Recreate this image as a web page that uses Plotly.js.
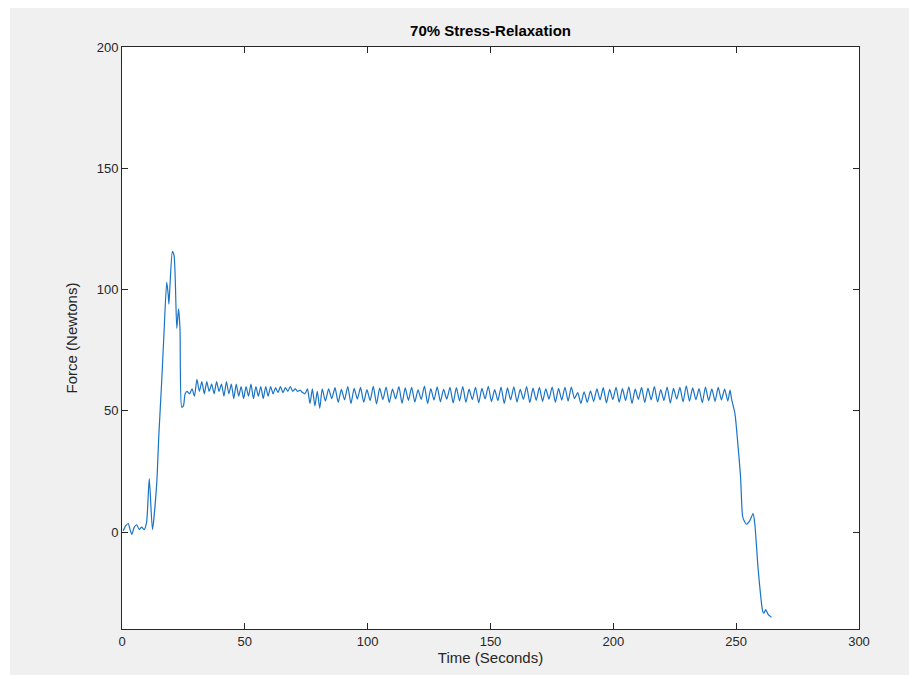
<!DOCTYPE html>
<html>
<head>
<meta charset="utf-8">
<script src="https://cdn.plot.ly/plotly-3.0.1.min.js"></script>
<style>
html,body{margin:0;padding:0;background:#ffffff;width:909px;height:675px;overflow:hidden;}
#chart{position:absolute;left:10px;top:8px;width:899px;height:667px;}
</style>
</head>
<body>
<div id="chart"></div>
<script>
// Time (s) and force (N)
const timeRise = [0.5, 1.5, 2.5, 3.3, 4.0, 5.0, 6.0, 7.0, 8.0, 9.0, 10.0, 11.1, 12.4, 14.1, 15.0, 16.1, 17.0, 18.2, 18.8, 19.1, 19.6, 20.5, 21.2, 22.3, 23.0, 23.6, 24.3, 25.0, 25.7];
const forceRise = [0.5, 2.5, 3.5, 1.0, -1.0, 2.0, 3.0, 1.0, 2.0, 1.0, 4.0, 22.0, 1.0, 19.5, 40.0, 61.0, 80.0, 103.0, 98.0, 94.0, 103.0, 115.6, 114.0, 84.0, 92.0, 84.0, 51.5, 52.0, 57.0];

const timeEarly = [26.5, 27.5, 28.5, 29.5, 30.5, 31.5, 32.5, 33.5, 34.5, 35.5, 36.5, 37.5, 38.5, 39.5, 40.5, 41.5, 42.5, 43.5, 44.5, 45.5, 46.5, 47.5, 48.5, 49.5, 50.5, 51.5, 52.5, 53.5, 54.5, 55.5, 56.5, 57.5, 58.5, 59.5, 60.5, 61.5, 62.5, 63.5, 64.5, 65.5, 66.5, 67.5, 68.5, 69.5, 70.5, 71.5, 72.5, 73.5, 74.5, 75.5, 76.5, 77.5, 78.5, 79.5, 80.5, 81.5];
const forceEarly = [58, 57, 59, 56, 63, 58, 62, 57, 62, 58, 61, 57, 62, 58, 61, 56, 62, 57, 61, 55, 61, 56, 60, 55, 60, 56, 61, 55, 60, 56, 60, 55, 60, 56, 60, 57, 59.5, 57.5, 60, 57.5, 59.5, 58, 60, 58, 59, 58, 58.5, 57.5, 57, 59, 53, 59, 52, 58, 51, 59];

const timeMid = [82.8, 84.1, 85.4, 86.7, 88.0, 89.3, 90.6, 91.9, 93.2, 94.5, 95.8, 97.1, 98.4, 99.7, 101.0, 102.3, 103.6, 104.9, 106.2, 107.5, 108.8, 110.1, 111.4, 112.7, 114.0, 115.3, 116.6, 117.9, 119.2, 120.5, 121.8, 123.1, 124.4, 125.7, 127.0, 128.3, 129.6, 130.9, 132.2, 133.5, 134.8, 136.1, 137.4, 138.7, 140.0, 141.3, 142.6, 143.9, 145.2, 146.5, 147.8, 149.1, 150.4, 151.7, 153.0, 154.3, 155.6, 156.9, 158.2, 159.5, 160.8, 162.1, 163.4, 164.7, 166.0, 167.3, 168.6, 169.9, 171.2, 172.5, 173.8, 175.1, 176.4, 177.7, 179.0, 180.3, 181.6, 182.9, 184.2, 185.5, 186.8, 188.1, 189.4];
const forceMid = [54, 59, 55, 59.5, 53.5, 58.8, 54.5, 60, 53, 59.2, 54.8, 59.6, 53.5, 58.7, 54.2, 60.1, 52.8, 59.3, 54.6, 59.8, 53.4, 58.9, 54.9, 60, 53.1, 59.4, 54.3, 59.7, 53.6, 58.6, 54.7, 60.2, 53, 59.1, 54.4, 59.9, 53.7, 58.8, 54.8, 59.6, 53.2, 59.5, 54.1, 60, 53.5, 58.9, 54.6, 59.7, 53.3, 59.2, 54.9, 60.1, 53.8, 58.7, 54.2, 59.8, 53, 59.4, 54.5, 59.9, 53.6, 58.8, 54.7, 60, 53.4, 59.3, 54.3, 59.6, 53.9, 59, 54.8, 59.8, 53.5, 59.2, 54.4, 59.7, 54, 59.8, 55, 57.5, 53, 57.8, 53.5];

const timeLate = [190.7, 192.0, 193.3, 194.6, 195.9, 197.2, 198.5, 199.8, 201.1, 202.4, 203.7, 205.0, 206.3, 207.6, 208.9, 210.2, 211.5, 212.8, 214.1, 215.4, 216.7, 218.0, 219.3, 220.6, 221.9, 223.2, 224.5, 225.8, 227.1, 228.4, 229.7, 231.0, 232.3, 233.6, 234.9, 236.2, 237.5, 238.8, 240.1, 241.4, 242.7, 244.0, 245.3, 246.6, 247.5];
const forceLate = [58.2, 53.8, 59, 54.5, 59.5, 53.2, 58.8, 54.6, 59.7, 53.5, 59.1, 54.2, 59.9, 53, 58.9, 54.7, 59.6, 53.4, 59.3, 54.5, 60, 53.6, 58.7, 54.3, 59.8, 53.2, 59.2, 54.8, 59.6, 53.7, 60.3, 54, 59.4, 54.6, 59.1, 53.3, 59.8, 54.2, 59, 53.9, 59.6, 54.5, 58.9, 54, 58.5];

const timeFall = [248.1, 249.5, 250.8, 251.8, 252.6, 253.3, 254.2, 255.5, 256.9, 257.6, 259.0, 260.8, 261.3, 262.0, 263.0, 264.4];
const forceFall = [55, 48.8, 34.9, 22.5, 6.6, 4.5, 3.2, 4.6, 7.6, 3.2, -16, -32.7, -33.5, -32, -34, -35.2];

const xTicks = [0, 50, 100, 150, 200, 250, 300];
const yTicks = [0, 50, 100, 150, 200];

const time = [].concat(timeRise, timeEarly, timeMid, timeLate, timeFall);
const force = [].concat(forceRise, forceEarly, forceMid, forceLate, forceFall);

const FONT = 'Liberation Sans, Arial, sans-serif';
const axisCommon = {
  showgrid: false, zeroline: false, showline: true, mirror: 'ticks',
  linecolor: '#262626', linewidth: 1, ticks: 'inside', ticklen: 6, tickwidth: 1,
  tickcolor: '#262626', tickfont: {family: FONT, size: 13, color: '#262626'}
};

const trace = {x: time, y: force, type: 'scatter', mode: 'lines',
  line: {color: '#1a74c4', width: 1.2, shape: 'spline', smoothing: 0.6}, hoverinfo: 'skip', showlegend: false};

const layout = {
  width: 899, height: 667,
  paper_bgcolor: '#f0f0f0', plot_bgcolor: '#ffffff',
  margin: {l: 112, r: 50, t: 39, b: 46},
  title: {text: '<b>70% Stress-Relaxation</b>', x: 0.5 + (112 - 50) / 2 / 899, xanchor: 'center', y: 1 - 23 / 667, yanchor: 'middle',
    font: {family: FONT, size: 15, color: '#000000'}},
  xaxis: Object.assign({}, axisCommon, {range: [0, 300], tickvals: xTicks, ticktext: xTicks.map(String),
    title: {text: 'Time (Seconds)', standoff: 4, font: {family: FONT, size: 15, color: '#262626'}}}),
  yaxis: Object.assign({}, axisCommon, {range: [-40, 200], tickvals: yTicks, ticktext: yTicks.map(String),
    title: {text: 'Force (Newtons)', standoff: 15, font: {family: FONT, size: 15, color: '#262626'}}})
};

Plotly.newPlot('chart', [trace], layout, {displayModeBar: false, staticPlot: true});
</script>
</body>
</html>
